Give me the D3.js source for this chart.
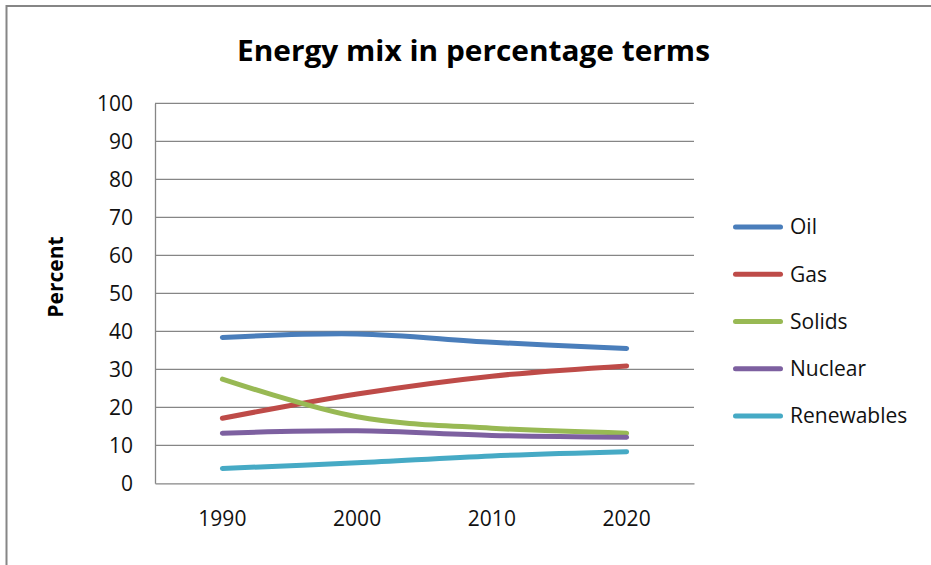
<!DOCTYPE html>
<html>
<head>
<meta charset="utf-8">
<script src="https://cdn.jsdelivr.net/npm/d3@7"></script>
<style>
  html, body { margin: 0; padding: 0; background: #fff; }
  svg { display: block; }
</style>
</head>
<body>
<svg id="chart" width="931" height="565"></svg>
<script>
// Energy mix data (percent of total)
const years = ["1990", "2000", "2010", "2020"];
const oil = [38.4, 39.3, 37.1, 35.5];
const gas = [17.1, 23.5, 28.2, 30.9];
const solids = [27.4, 17.5, 14.5, 13.2];
const nuclear = [13.2, 13.8, 12.6, 12.1];
const renewables = [3.9, 5.4, 7.2, 8.3];
const yTicks = [0, 10, 20, 30, 40, 50, 60, 70, 80, 90, 100];

const seriesNames = ["Oil", "Gas", "Solids", "Nuclear", "Renewables"];
const seriesValues = [oil, gas, solids, nuclear, renewables];
const seriesColors = ["#4A7EBB", "#BE4B48", "#98B954", "#7D60A0", "#46AAC5"];

const svg = d3.select("#chart");
const font = "'Open Sans', 'DejaVu Sans', sans-serif";
const gridColor = "#868686";

// chart frame
svg.append("rect")
  .attr("x", 6.5).attr("y", 6)
  .attr("width", 1000).attr("height", 1000)
  .attr("fill", "none")
  .attr("stroke", gridColor)
  .attr("stroke-width", 2);

const plot = { left: 155, right: 694, top: 103.3, bottom: 483.3 };

const x = d3.scaleBand().domain(years).range([plot.left, plot.right]);
const y = d3.scaleLinear().domain([0, 100]).range([plot.bottom, plot.top]);

// horizontal gridlines
svg.append("g")
  .selectAll("line")
  .data(yTicks.filter(t => t > 0))
  .join("line")
  .attr("x1", plot.left).attr("x2", plot.right)
  .attr("y1", d => y(d)).attr("y2", d => y(d))
  .attr("stroke", gridColor)
  .attr("stroke-width", 1.3);

// y axis
const yAxis = svg.append("g")
  .attr("transform", `translate(${plot.left},0)`)
  .call(d3.axisLeft(y).tickValues(yTicks).tickSize(0).tickPadding(22));
yAxis.select(".domain").attr("stroke", gridColor).attr("stroke-width", 1.3);
yAxis.selectAll("text")
  .attr("font-family", font)
  .attr("font-size", 21)
  .attr("fill", "#111");

// x axis
const xAxis = svg.append("g")
  .attr("transform", `translate(0,${plot.bottom})`)
  .call(d3.axisBottom(x).tickSize(0).tickPadding(28));
xAxis.select(".domain").attr("stroke", gridColor).attr("stroke-width", 1.3);
xAxis.selectAll("text")
  .attr("font-family", font)
  .attr("font-size", 21)
  .attr("fill", "#111");

// series lines
const line = d3.line()
  .x((d, i) => x(years[i]) + x.bandwidth() / 2)
  .y(d => y(d))
  .curve(d3.curveCatmullRom.alpha(0.5));

svg.append("g")
  .selectAll("path")
  .data(seriesValues)
  .join("path")
  .attr("d", d => line(d))
  .attr("fill", "none")
  .attr("stroke", (d, i) => seriesColors[i])
  .attr("stroke-width", 5)
  .attr("stroke-linecap", "round")
  .attr("stroke-linejoin", "round");

// title
svg.append("text")
  .attr("x", 473.5).attr("y", 61)
  .attr("text-anchor", "middle")
  .attr("font-family", font)
  .attr("font-weight", "bold")
  .attr("font-size", 29)
  .attr("textLength", 473)
  .attr("lengthAdjust", "spacingAndGlyphs")
  .attr("fill", "#000")
  .text("Energy mix in percentage terms");

// y axis title
svg.append("text")
  .attr("transform", "translate(63,277) rotate(-90)")
  .attr("text-anchor", "middle")
  .attr("font-family", font)
  .attr("font-weight", "bold")
  .attr("font-size", 21)
  .attr("fill", "#000")
  .text("Percent");

// legend
const legendY = d3.scalePoint().domain(seriesNames).range([227, 416]);
const legend = svg.append("g");
const item = legend.selectAll("g")
  .data(seriesNames)
  .join("g")
  .attr("transform", d => `translate(0,${legendY(d)})`);
item.append("line")
  .attr("x1", 735.5).attr("x2", 780.5)
  .attr("y1", 0).attr("y2", 0)
  .attr("stroke", (d, i) => seriesColors[i])
  .attr("stroke-width", 5)
  .attr("stroke-linecap", "round");
item.append("text")
  .attr("x", 790).attr("y", 0)
  .attr("dy", "0.35em")
  .attr("font-family", font)
  .attr("font-size", 21)
  .attr("fill", "#111")
  .text(d => d);
</script>
</body>
</html>
